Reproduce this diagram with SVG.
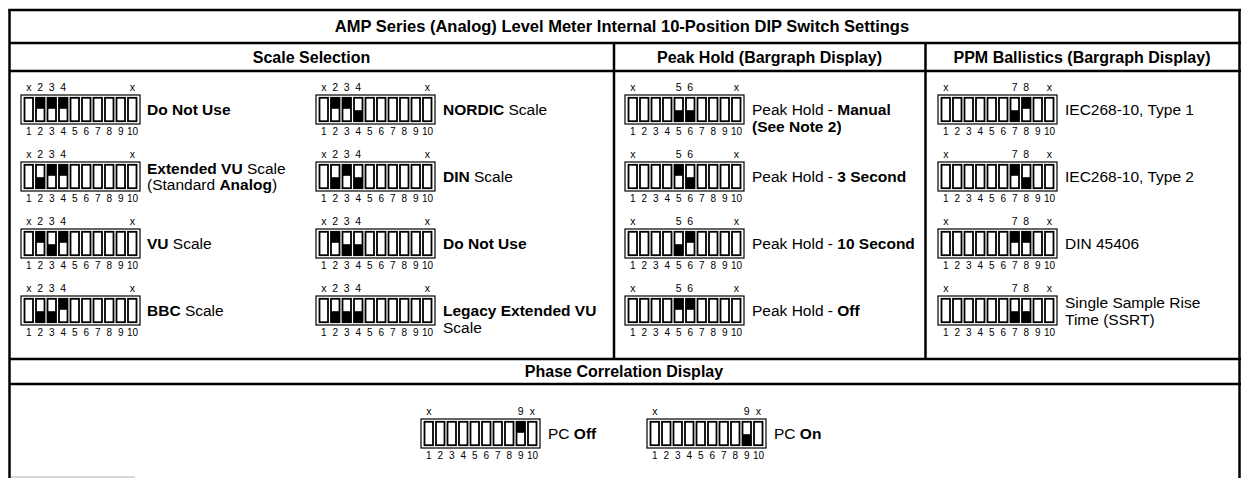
<svg xmlns="http://www.w3.org/2000/svg" width="1241" height="478" viewBox="0 0 1241 478">
<style>
text{font-family:"Liberation Sans",Arial,Helvetica,sans-serif;fill:#000}
.title{font-size:16.5px;font-weight:bold;text-anchor:middle}
.hdr{font-size:16px;font-weight:bold;text-anchor:middle}
.lbl{font-size:15.5px}
.b{font-weight:bold}
.num{font-size:10px;text-anchor:middle}
.top{font-size:10.5px;text-anchor:middle}
.grid line{stroke:#000;stroke-width:2.5;fill:none}
</style>
<defs>
<g id="sw">
<rect x="0" y="0" width="119" height="29" fill="#fff" stroke="#000" stroke-width="1.2"/>
<g fill="#fff" stroke="#000" stroke-width="1.8">
<rect x="3.5" y="2.8" width="8.5" height="23.4"/>
<rect x="15" y="2.8" width="8.5" height="23.4"/>
<rect x="26.5" y="2.8" width="8.5" height="23.4"/>
<rect x="38" y="2.8" width="8.5" height="23.4"/>
<rect x="49.5" y="2.8" width="8.5" height="23.4"/>
<rect x="61" y="2.8" width="8.5" height="23.4"/>
<rect x="72.5" y="2.8" width="8.5" height="23.4"/>
<rect x="84" y="2.8" width="8.5" height="23.4"/>
<rect x="95.5" y="2.8" width="8.5" height="23.4"/>
<rect x="107" y="2.8" width="8.5" height="23.4"/>
</g>
<g>
<text class="num" x="7.75" y="40">1</text>
<text class="num" x="19.25" y="40">2</text>
<text class="num" x="30.75" y="40">3</text>
<text class="num" x="42.25" y="40">4</text>
<text class="num" x="53.75" y="40">5</text>
<text class="num" x="65.25" y="40">6</text>
<text class="num" x="76.75" y="40">7</text>
<text class="num" x="88.25" y="40">8</text>
<text class="num" x="99.75" y="40">9</text>
<text class="num" x="111.5" y="40">10</text>
</g>
</g>
<g id="l234">
<text class="top" x="7.75" y="-4">x</text><text class="top" x="19.25" y="-4">2</text><text class="top" x="30.75" y="-4">3</text><text class="top" x="42.25" y="-4">4</text><text class="top" x="111.25" y="-4">x</text>
</g>
<g id="l56">
<text class="top" x="7.75" y="-4">x</text><text class="top" x="53.75" y="-4">5</text><text class="top" x="65.25" y="-4">6</text><text class="top" x="111.25" y="-4">x</text>
</g>
<g id="l78">
<text class="top" x="7.75" y="-4">x</text><text class="top" x="76.75" y="-4">7</text><text class="top" x="88.25" y="-4">8</text><text class="top" x="111.25" y="-4">x</text>
</g>
<g id="l9">
<text class="top" x="7.75" y="-4">x</text><text class="top" x="99.75" y="-4">9</text><text class="top" x="111.25" y="-4">x</text>
</g>
<rect id="up" x="3.5" y="2.8" width="8.5" height="11" fill="#000"/>
<rect id="dn" x="3.5" y="15.2" width="8.5" height="11" fill="#000"/>
</defs>

<rect width="1241" height="478" fill="#fff"/>

<g id="grid" class="grid">
<line x1="9.5" y1="10" x2="9.5" y2="478"/>
<line x1="1239.5" y1="10" x2="1239.5" y2="478"/>
<line x1="8.25" y1="10" x2="1241" y2="10"/>
<line x1="9.5" y1="43" x2="1241" y2="43"/>
<line x1="9.5" y1="71" x2="1241" y2="71"/>
<line x1="9.5" y1="359" x2="1241" y2="359"/>
<line x1="9.5" y1="384" x2="1241" y2="384"/>
<line x1="614" y1="43" x2="614" y2="359"/>
<line x1="925.5" y1="43" x2="925.5" y2="359"/>
<line x1="11" y1="477" x2="135" y2="477" style="stroke:#c8c8c8;stroke-width:1.5"/>
</g>

<g id="headers">
<text class="title" x="622" y="32">AMP Series (Analog) Level Meter Internal 10-Position DIP Switch Settings</text>
<text class="hdr" x="311.5" y="62.5">Scale Selection</text>
<text class="hdr" x="769.5" y="62.5">Peak Hold (Bargraph Display)</text>
<text class="hdr" x="1082" y="62.5">PPM Ballistics (Bargraph Display)</text>
<text class="hdr" x="624" y="377">Phase Correlation Display</text>
</g>

<g id="connectors"></g>

<g id="scale-do-not-use-a" transform="translate(21,95)">
<use href="#sw"/><use href="#l234"/>
<use href="#up" x="11.5"/><use href="#up" x="23"/><use href="#up" x="34.5"/>
<text class="lbl b" x="126" y="20">Do Not Use</text>
</g>
<g id="scale-extended-vu" transform="translate(21,162)">
<use href="#sw"/><use href="#l234"/>
<use href="#dn" x="11.5"/><use href="#up" x="23"/><use href="#up" x="34.5"/>
<text class="lbl" x="126" y="12"><tspan class="b">Extended VU</tspan> Scale</text>
<text class="lbl" x="126" y="28">(Standard <tspan class="b">Analog</tspan>)</text>
</g>
<g id="scale-vu" transform="translate(21,229)">
<use href="#sw"/><use href="#l234"/>
<use href="#up" x="11.5"/><use href="#dn" x="23"/><use href="#up" x="34.5"/>
<text class="lbl" x="126" y="20"><tspan class="b">VU</tspan> Scale</text>
</g>
<g id="scale-bbc" transform="translate(21,296)">
<use href="#sw"/><use href="#l234"/>
<use href="#dn" x="11.5"/><use href="#dn" x="23"/><use href="#up" x="34.5"/>
<text class="lbl" x="126" y="20"><tspan class="b">BBC</tspan> Scale</text>
</g>

<g id="scale-nordic" transform="translate(316,95)">
<use href="#sw"/><use href="#l234"/>
<use href="#up" x="11.5"/><use href="#up" x="23"/><use href="#dn" x="34.5"/>
<text class="lbl" x="127" y="20"><tspan class="b">NORDIC</tspan> Scale</text>
</g>
<g id="scale-din" transform="translate(316,162)">
<use href="#sw"/><use href="#l234"/>
<use href="#dn" x="11.5"/><use href="#up" x="23"/><use href="#dn" x="34.5"/>
<text class="lbl" x="127" y="20"><tspan class="b">DIN</tspan> Scale</text>
</g>
<g id="scale-do-not-use-b" transform="translate(316,229)">
<use href="#sw"/><use href="#l234"/>
<use href="#up" x="11.5"/><use href="#dn" x="23"/><use href="#dn" x="34.5"/>
<text class="lbl b" x="127" y="20">Do Not Use</text>
</g>
<g id="scale-legacy" transform="translate(316,296)">
<use href="#sw"/><use href="#l234"/>
<use href="#dn" x="11.5"/><use href="#dn" x="23"/><use href="#dn" x="34.5"/>
<text class="lbl b" x="127" y="20">Legacy Extended VU</text>
<text class="lbl" x="127" y="37">Scale</text>
</g>

<g id="peak-manual" transform="translate(625,95)">
<use href="#sw"/><use href="#l56"/>
<use href="#dn" x="46"/><use href="#dn" x="57.5"/>
<text class="lbl" x="127" y="20">Peak Hold - <tspan class="b">Manual</tspan></text>
<text class="lbl b" x="127" y="37">(See Note 2)</text>
</g>
<g id="peak-3s" transform="translate(625,162)">
<use href="#sw"/><use href="#l56"/>
<use href="#up" x="46"/><use href="#dn" x="57.5"/>
<text class="lbl" x="127" y="20">Peak Hold - <tspan class="b">3 Second</tspan></text>
</g>
<g id="peak-10s" transform="translate(625,229)">
<use href="#sw"/><use href="#l56"/>
<use href="#dn" x="46"/><use href="#up" x="57.5"/>
<text class="lbl" x="127" y="20">Peak Hold - <tspan class="b">10 Second</tspan></text>
</g>
<g id="peak-off" transform="translate(625,296)">
<use href="#sw"/><use href="#l56"/>
<use href="#up" x="46"/><use href="#up" x="57.5"/>
<text class="lbl" x="127" y="20">Peak Hold - <tspan class="b">Off</tspan></text>
</g>

<g id="ppm-type1" transform="translate(938,95)">
<use href="#sw"/><use href="#l78"/>
<use href="#dn" x="69"/><use href="#up" x="80.5"/>
<text class="lbl" x="127" y="20">IEC268-10, Type 1</text>
</g>
<g id="ppm-type2" transform="translate(938,162)">
<use href="#sw"/><use href="#l78"/>
<use href="#up" x="69"/><use href="#dn" x="80.5"/>
<text class="lbl" x="127" y="20">IEC268-10, Type 2</text>
</g>
<g id="ppm-din" transform="translate(938,229)">
<use href="#sw"/><use href="#l78"/>
<use href="#up" x="69"/><use href="#up" x="80.5"/>
<text class="lbl" x="127" y="20">DIN 45406</text>
</g>
<g id="ppm-ssrt" transform="translate(938,296)">
<use href="#sw"/><use href="#l78"/>
<use href="#dn" x="69"/><use href="#dn" x="80.5"/>
<text class="lbl" x="127" y="12">Single Sample Rise</text>
<text class="lbl" x="127" y="29">Time (SSRT)</text>
</g>

<g id="pc-off" transform="translate(421,419)">
<use href="#sw"/><use href="#l9"/>
<use href="#up" x="92"/>
<text class="lbl" x="127" y="20">PC <tspan class="b">Off</tspan></text>
</g>
<g id="pc-on" transform="translate(647,419)">
<use href="#sw"/><use href="#l9"/>
<use href="#dn" x="92"/>
<text class="lbl" x="127" y="20">PC <tspan class="b">On</tspan></text>
</g>
</svg>
